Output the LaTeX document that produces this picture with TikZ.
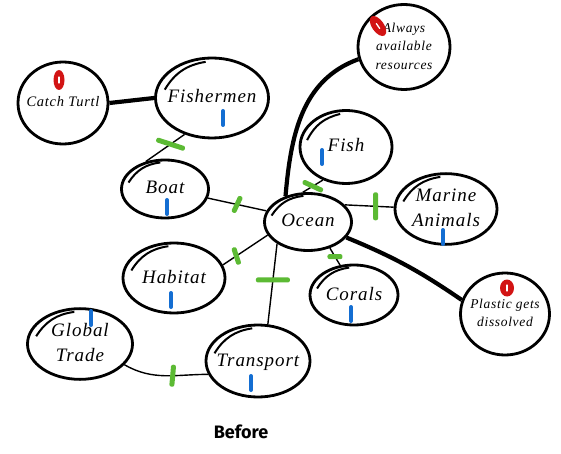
\documentclass[tikz,border=0pt]{standalone}
\usepackage{fontspec}
\setmainfont{Liberation Serif}
\newfontfamily\handfont{Liberation Serif}[LetterSpace=5]
\newfontfamily\labelfont{Fira Sans}
\usetikzlibrary{shapes.geometric,calc}

\definecolor{tickgreen}{RGB}{92,186,52}
\definecolor{tickblue}{RGB}{20,110,210}
\definecolor{markred}{RGB}{210,20,20}

\newcommand{\mapword}[1]{\makebox[0pt]{\begin{tabular}{@{}c@{}}#1\end{tabular}}}

\tikzset{
  bubble/.style={ellipse, draw, line width=2.8pt, inner sep=0pt},
  dims/.style 2 args={minimum width=#1, minimum height=#2},
  bigword/.style={font=\handfont\itshape\fontsize{19}{25}\selectfont},
  smallword/.style={font=\handfont\itshape\fontsize{13.5}{18.5}\selectfont},
  link/.style={line width=1.4pt},
  boldlink/.style={line width=4.2pt},
  gtick/.style={fill=tickgreen, rounded corners=2pt, inner sep=0pt, minimum height=5pt},
  btick/.style={tickblue, line width=4pt, line cap=round},
  redmark/.style={ellipse, fill=markred, inner sep=0pt,
    path picture={\draw[white, line width=1.3pt, line cap=round]
      ([yshift=3pt]path picture bounding box.center) -- ([yshift=-3pt]path picture bounding box.center);}},
  overstroke/.style={line width=2pt}
}

\begin{document}
\begin{tikzpicture}[x=1pt,y=-1pt]
\useasboundingbox (0,0) rectangle (561,454);

% Begriffe
\node[bubble, dims={90}{82}, font=\handfont\itshape\fontsize{14.5}{18}\selectfont] (turtle) at (63,103) {\mapword{Catch Turtl}};
\node[bubble, dims={113}{80}, bigword] (fishermen) at (212,98) {\mapword{Fishermen}};
\node[bubble, dims={87}{58}, bigword] (boat) at (165,189) {\mapword{Boat}};
\node[bubble, dims={87}{57}, bigword] (ocean) at (308,222) {\mapword{Ocean}};
\node[bubble, dims={92}{73}, bigword] (fish) at (346,147) {\mapword{Fish}};
\node[bubble, dims={92}{85}, smallword] (resources) at (404,47) {\mapword{Always\\available\\resources}};
\node[bubble, dims={102}{70}, bigword] (marine) at (446,209) {\mapword{Marine\\Animals}};
\node[bubble, dims={102}{70}, bigword] (habitat) at (174,278) {\mapword{Habitat}};
\node[bubble, dims={88}{60}, bigword] (corals) at (354,295) {\mapword{Corals}};
\node[bubble, dims={89}{82}, smallword] (plastic) at (505,314) {\mapword{Plastic gets\\dissolved}};
\node[bubble, dims={105}{68}, bigword] (trade) at (80,344) {\mapword{Global\\Trade}};
\node[bubble, dims={104}{72}, bigword] (transport) at (258,361) {\mapword{Transport}};

% zweiter Strich oben links
\foreach \n in {fishermen,boat,ocean,fish,marine,habitat,corals,trade,transport}
  \draw[overstroke] ($(\n.170)!0.16!(\n.center)$) to[bend left=25] ($(\n.100)!0.12!(\n.center)$);

% Verbindungen
\draw[boldlink] (turtle.east) -- (fishermen.west);
\draw[link] (fishermen.233) -- node[gtick, pos=.36, minimum width=30, rotate=-18] (g1) {} (boat.125);
\draw[link] (boat.-12) -- node[gtick, pos=.5, minimum width=18, rotate=65] (g2) {} (ocean.165);
\draw[link] (ocean.100) -- node[gtick, pos=.5, minimum width=22, rotate=-25] (g3) {} (fish.235);
\draw[boldlink] (ocean.131) to[out=85,in=200] (resources.195);
\draw[link] (ocean.25) -- node[gtick, pos=.63, minimum width=28, rotate=90] (g4) {} (marine.178);
\draw[boldlink] (ocean.-22) to[bend left=6] (plastic.162);
\draw[link] (ocean.-50) -- node[gtick, pos=.5, minimum width=15] (g5) {} (corals.115);
\draw[link] (ocean.198) -- node[gtick, pos=.7, minimum width=18, rotate=-72] (g6) {} (habitat.15);
\draw[link] (ocean.-145) -- node[gtick, pos=.45, minimum width=34] (g7) {} (transport.75);
\draw[link] (trade.-25) to[out=-30,in=180] node[gtick, pos=.6, minimum width=22, rotate=85] (g8) {} (transport.195);

% Markierungen
\foreach \n/\dx/\dy in {fishermen/11/20, boat/2/18, fish/-24/10, marine/-3/28, habitat/-3/22, corals/-3/19, trade/11/-26, transport/-7/22}
  \draw[btick] ([shift={(\dx,\dy-7)}]\n.center) -- ++(0,14);

\node[redmark, minimum width=11, minimum height=20] (m1) at ([shift={(-4,-23)}]turtle.center) {};
\node[redmark, minimum width=12, minimum height=23, rotate=35] (m2) at ([shift={(-26,-21)}]resources.center) {};
\node[redmark, minimum width=14, minimum height=17] (m3) at ([shift={(2,-26)}]plastic.center) {};

\node[font=\labelfont\bfseries\fontsize{18}{20}\selectfont] (caption) at (241,432) {Before};
\end{tikzpicture}
\end{document}
